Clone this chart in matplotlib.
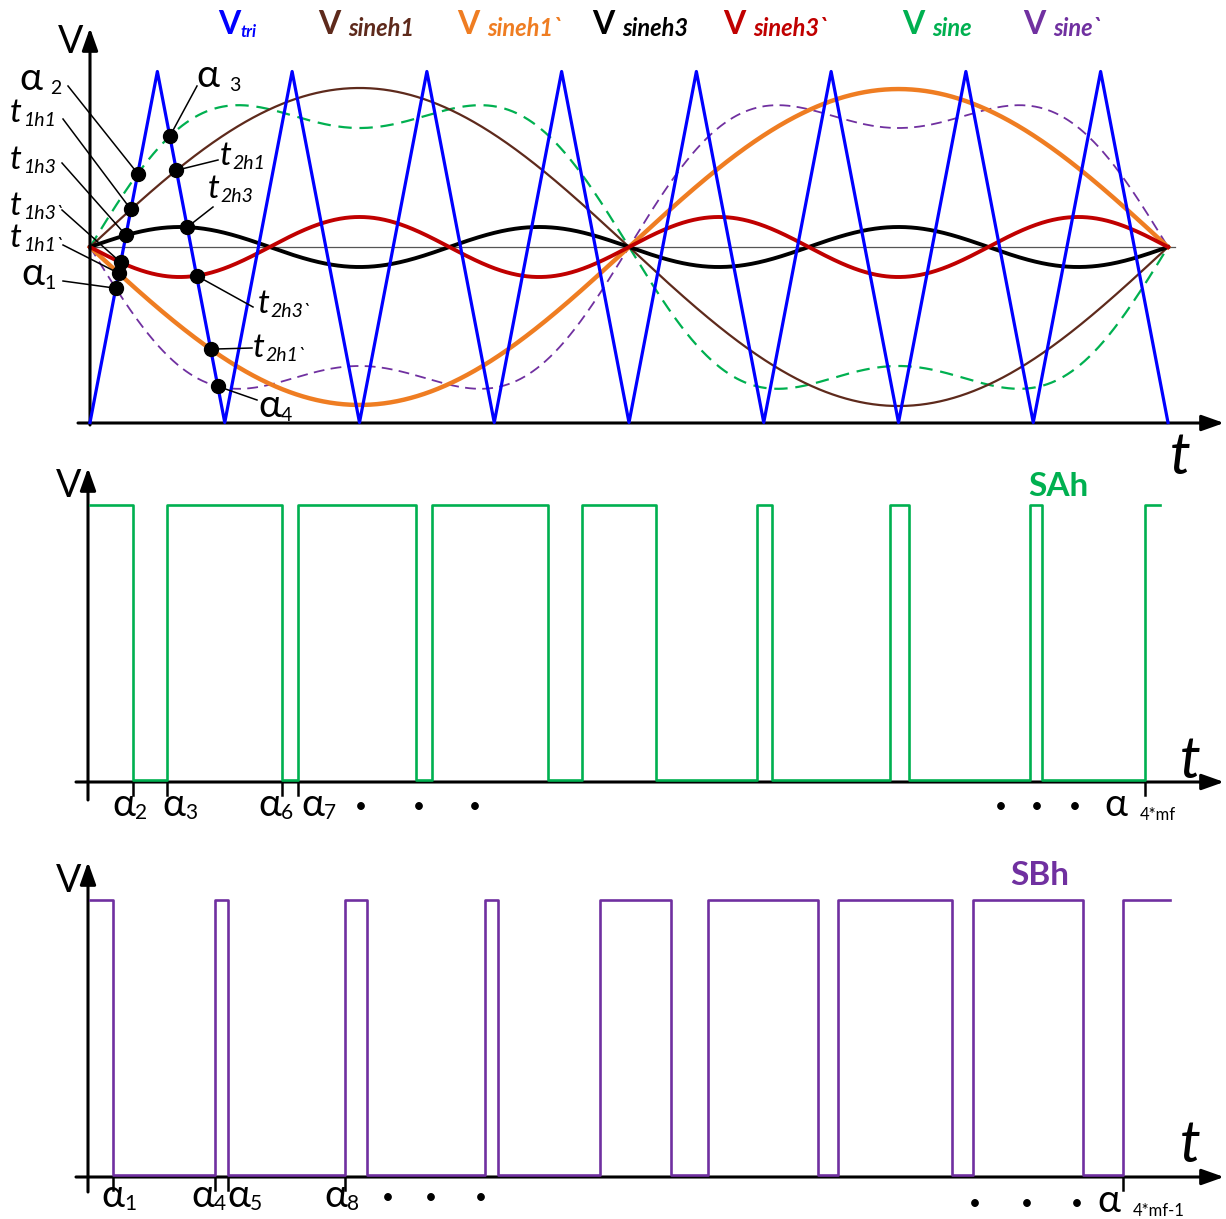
import numpy as np
import matplotlib.pyplot as plt

plt.rcParams['font.family'] = ['Lato', 'DejaVu Sans']

# ---------------- data ----------------
# carrier: triangle wave, 8 periods in one fundamental cycle, amplitude 1
n_periods = 8
tri_amp = 1.0

# modulating waves, amplitudes relative to the carrier
amp_sineh1 = 0.906    # V sineh1  (fundamental)
amp_sineh1b = 0.900   # V sineh1` (fundamental, inverted)
amp_sineh3 = 0.114    # V sineh3  (3rd harmonic)
amp_sineh3b = 0.171   # V sineh3` (3rd harmonic, inverted)
amp_sine_1 = 0.906    # V sine = fundamental + 3rd harmonic
amp_sine_3 = 0.228

# gate signals: switching instants (carrier periods), both start high
sa_edges = [0.319, 0.571, 1.425, 1.544, 2.419, 2.538, 3.399, 3.651,
            4.200, 4.950, 5.061, 5.937, 6.078, 6.976, 7.065, 7.829]
sa_end = 7.941
sb_edges = [0.171, 0.928, 1.024, 1.892, 2.056, 2.931, 3.028, 3.785,
            4.312, 4.586, 5.403, 5.551, 6.397, 6.553, 7.369, 7.666]
sb_end = 8.015

# edges that get a tick on the time axis
sa_marked = [0, 1, 2, 3, 15]
sa_names = ['2', '3', '6', '7']
sb_marked = [0, 1, 2, 3, 15]
sb_names = ['1', '4', '5', '8']

c_tri = '#0000ff'
c_h1 = '#5e2a1c'
c_h1b = '#ef7d22'
c_h3 = '#000000'
c_h3b = '#c00000'
c_sine = '#00b050'
c_sineb = '#7030a0'

# ---------------- curves ----------------
tri_t = np.arange(0, n_periods + 0.5, 0.5)
tri_v = np.where(tri_t % 1 == 0, -tri_amp, tri_amp)


def th(t):
    return 2 * np.pi * np.asarray(t) / n_periods


def v_sineh1(t):
    return amp_sineh1 * np.sin(th(t))


def v_sineh1b(t):
    return -amp_sineh1b * np.sin(th(t))


def v_sineh3(t):
    return amp_sineh3 * np.sin(3 * th(t))


def v_sineh3b(t):
    return -amp_sineh3b * np.sin(3 * th(t))


def v_sine(t):
    return amp_sine_1 * np.sin(th(t)) + amp_sine_3 * np.sin(3 * th(t))


def v_sineb(t):
    return -v_sine(t)


def tri(t):
    return np.interp(t, tri_t, tri_v)


def cross(f, t0, t1):
    tt = np.linspace(t0, t1, 4001)
    d = f(tt) - tri(tt)
    i = np.nonzero(np.sign(d[:-1]) != np.sign(d[1:]))[0][0]
    return tt[i] - d[i] * (tt[i + 1] - tt[i]) / (d[i + 1] - d[i])


# ---------------- figure ----------------
W, H = 1226, 1219
fig = plt.figure(figsize=(W / 100, H / 100), dpi=100)
X0, XP = 90.0, 134.75   # pixel of t=0, pixels per carrier period


def panel(top, bottom, y_zero, y_unit):
    ax = fig.add_axes([0, 1 - bottom / H, 1, (bottom - top) / H])
    ax.set_xlim(-X0 / XP, (W - X0) / XP)
    ax.set_ylim((y_zero - bottom) / y_unit, (y_zero - top) / y_unit)
    ax.axis('off')

    def pt(x, y):
        return (x - X0) / XP, (y_zero - y) / y_unit
    return ax, pt


ax1, p1 = panel(0, 470, 247, 175.5)
ax2, p2 = panel(470, 840, 782, 277)
ax3, p3 = panel(840, H, 1177, 277)


def arrow(ax, start, end):
    ax.annotate('', xy=end, xytext=start, annotation_clip=False,
                arrowprops=dict(arrowstyle='-|>,head_length=0.9,head_width=0.32',
                                lw=2.2, color='black', shrinkA=0, shrinkB=0,
                                mutation_scale=15))


def ftext(x, y, s, **kw):
    return fig.text(x / W, 1 - y / H, s, va='baseline', ha='left', **kw)


def with_sub(x, y, main, sub, main_kw, sub_kw, gap=1, dy=0):
    m = ftext(x, y, main, **main_kw)
    ax1.annotate(sub, xy=(1, 0), xycoords=m, xytext=(gap, dy),
                 textcoords='offset points', va='bottom', ha='left',
                 annotation_clip=False, **sub_kw)
    return m


# ---- top panel: carrier and references ----
arrow(ax1, p1(90, 425), p1(90, 28))
arrow(ax1, p1(78, 423), p1(1224, 423))
ax1.plot([0, 8.05], [0, 0], color='#555555', lw=0.9, zorder=1)

t = np.linspace(0, n_periods, 1601)
ax1.plot(t, v_sine(t), color=c_sine, lw=1.6, dashes=(6, 3.5), zorder=2)
ax1.plot(t, v_sineb(t), color=c_sineb, lw=1.3, dashes=(6, 3.5), zorder=2)
ax1.plot(t, v_sineh1(t), color=c_h1, lw=1.6, zorder=2)
ax1.plot(t, v_sineh1b(t), color=c_h1b, lw=3.2, zorder=2)
ax1.plot(t, v_sineh3(t), color=c_h3, lw=2.8, zorder=2)
ax1.plot(t, v_sineh3b(t), color=c_h3b, lw=2.8, zorder=2)
ax1.plot(tri_t, tri_v, color=c_tri, lw=2.3, zorder=4)

# intersection points in the first carrier period and their labels
t_kw = dict(fontsize=24, fontstyle='italic')
ts_kw = dict(fontsize=14, fontstyle='italic')
a_kw = dict(fontsize=28)
as_kw = dict(fontsize=14)
dot_labels = [
    (v_sine, 'up', 'α', '2', (19, 90), 6, (68, 86)),
    (v_sineh1, 'up', 't', '1h1', (10, 122), 0.5, (63, 119)),
    (v_sineh3, 'up', 't', '1h3', (10, 169), 0.5, (62, 163)),
    (v_sineh3b, 'up', 't', '1h3`', (10, 215), 0.5, (62, 210)),
    (v_sineh1b, 'up', 't', '1h1`', (10, 247), 0.5, (63, 245)),
    (v_sineb, 'up', 'α', '1', (21, 285), 0, (63, 281)),
    (v_sine, 'down', 'α', '3', (196, 87), 7, (197, 86)),
    (v_sineh1, 'down', 't', '2h1', (220, 165), 0.5, (218, 160)),
    (v_sineh3, 'down', 't', '2h3', (208, 198), 0.5, (213, 207)),
    (v_sineh3b, 'down', 't', '2h3`', (258, 313), 0.5, (253, 307)),
    (v_sineh1b, 'down', 't', '2h1`', (253, 357), 0.5, (252, 348)),
    (v_sineb, 'down', 'α', '4', (258, 417), 0, (257, 400)),
]
for f, edge, main, sub, (lx, ly), gap, start in dot_labels:
    tc = cross(f, 0.02, 0.5) if edge == 'up' else cross(f, 0.5, 0.98)
    vc = f(tc)
    sx, sy = p1(*start)
    ax1.plot([sx, tc], [sy, vc], color='black', lw=1.1, zorder=5)
    ax1.plot(tc, vc, 'o', color='black', ms=10, zorder=6)
    if main == 't':
        with_sub(lx, ly, main, sub, t_kw, ts_kw, gap=gap, dy=-1)
    else:
        with_sub(lx, ly, main, sub, a_kw, as_kw, gap=gap, dy=0)

# legend across the top
leg_main = dict(fontsize=23, fontweight='bold')
legend = [
    (218, 'tri', c_tri, 12, 0.5),
    (318, 'sineh1', c_h1, 17, 6),
    (457, 'sineh1`', c_h1b, 17, 6),
    (592, 'sineh3', c_h3, 17, 6),
    (723, 'sineh3`', c_h3b, 17, 6),
    (902, 'sine', c_sine, 17, 6),
    (1023, 'sine`', c_sineb, 17, 6),
]
for lx, name, col, size, gap in legend:
    with_sub(lx, 34, 'V', name, dict(leg_main, color=col),
             dict(fontsize=size, fontweight='bold', fontstyle='italic', color=col),
             gap=gap, dy=-1)

ftext(58, 53, 'V', fontsize=27)
ftext(1170, 474, 't', fontsize=42, fontstyle='italic')


# ---- gate signals ----
def gate(ax, edges, end, marked, names, color, name, name_pos,
         label_pos, tail, dots):
    x = np.r_[0, edges, end]
    lv = np.array([1.0 if i % 2 == 0 else 0.008 for i in range(len(edges) + 1)])
    ax.step(x, np.r_[lv, lv[-1]], where='post', color=color, lw=1.9, zorder=3)
    for i in marked:
        ax.plot([edges[i], edges[i]], [0, -13 / 277], color='black', lw=1.8, zorder=2)
    for nm, (lx, ly) in zip(names, label_pos):
        with_sub(lx, ly, 'α', nm, dict(fontsize=28), dict(fontsize=15), gap=0)
    with_sub(tail[0], tail[1], 'α', tail[2], dict(fontsize=28), dict(fontsize=12),
             gap=9, dy=0)
    for dx, dy in dots:
        ftext(dx - 4, dy + 5, '•', fontsize=15)
    ftext(name_pos[0], name_pos[1], name, fontsize=24, fontweight='bold', color=color)


arrow(ax2, p2(88, 800), p2(88, 468))
arrow(ax2, p2(76, 782), p2(1224, 782))
ftext(56, 497, 'V', fontsize=27)
ftext(1180, 778, 't', fontsize=42, fontstyle='italic')
gate(ax2, sa_edges, sa_end, sa_marked, sa_names, c_sine, 'SAh', (1028, 496),
     [(112, 816), (162, 816), (258, 816), (301, 816)], (1104, 816, '4*mf'),
     [(359, 808), (417, 808), (473, 808), (999, 808), (1035, 808), (1073, 808)])

arrow(ax3, p3(88, 1192), p3(88, 862))
arrow(ax3, p3(76, 1177), p3(1224, 1177))
ftext(56, 892, 'V', fontsize=27)
ftext(1180, 1162, 't', fontsize=42, fontstyle='italic')
gate(ax3, sb_edges, sb_end, sb_marked, sb_names, c_sineb, 'SBh', (1010, 885),
     [(101, 1207), (191, 1207), (227, 1207), (324, 1207)], (1097, 1212, '4*mf-1'),
     [(386, 1199), (429, 1199), (479, 1199), (973, 1205), (1025, 1205), (1075, 1205)])

fig.savefig('out.png', dpi=100, facecolor='white')
